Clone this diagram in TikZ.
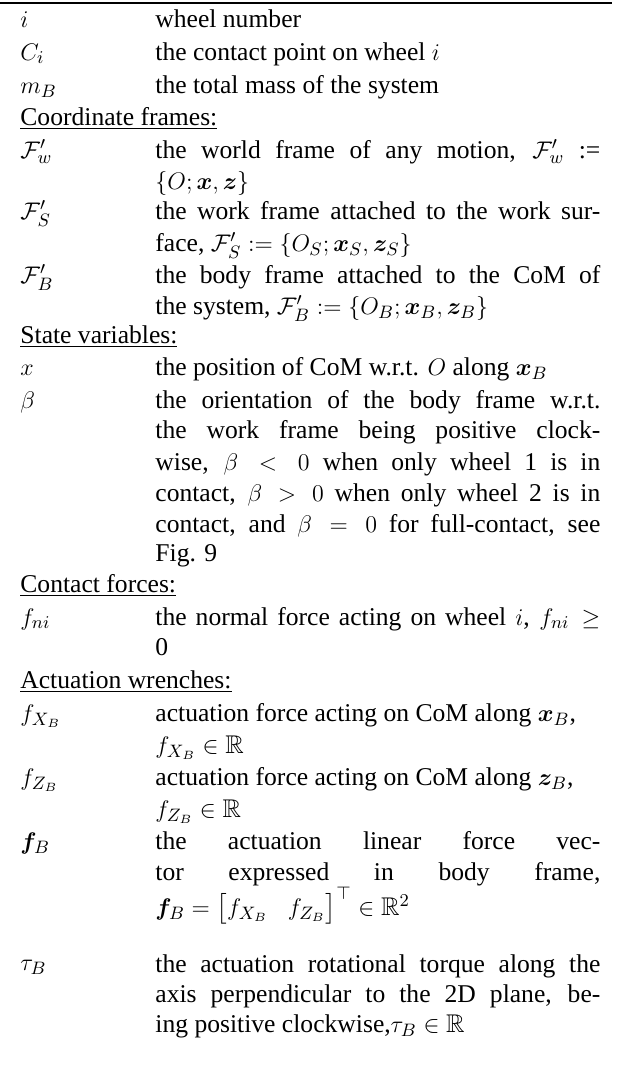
\documentclass[tikz,border=0pt]{standalone}
\usepackage{amsmath,amssymb,bm}
\usepackage{fontspec}
\setmainfont{Liberation Serif}
\newcommand{\J}[1]{\hbox to 222.5pt{#1}}
\begin{document}
\begin{tikzpicture}[x=0.5pt,y=-0.5pt,
  t/.style={anchor=base west,inner sep=0pt,font=\fontsize{12.8}{15.5}\selectfont}]
\useasboundingbox (0,0) rectangle (618,1078);
\draw[line width=0.8pt] (0,3) -- (612,3);
% symbols column
\node[t] (s1) at (20,27) {$i$};
\node[t] (s2) at (20,60) {$C_i$};
\node[t] (s3) at (20,93) {$m_B$};
\node[t] (h1) at (20,125) {\underline{Coordinate frames:}};
\node[t] (s4) at (20,158) {$\mathcal{F}'_w$};
\node[t] (s5) at (20,219) {$\mathcal{F}'_S$};
\node[t] (s6) at (20,283) {$\mathcal{F}'_B$};
\node[t] (h2) at (20,343) {\underline{State variables:}};
\node[t] (s7) at (20,375) {$x$};
\node[t] (s8) at (20,408) {$\beta$};
\node[t] (h3) at (20,592) {\underline{Contact forces:}};
\node[t] (s9) at (20,625) {$f_{ni}$};
\node[t] (h4) at (20,688) {\underline{Actuation wrenches:}};
\node[t] (s10) at (20,721) {$f_{X_B}$};
\node[t] (s11) at (20,785) {$f_{Z_B}$};
\node[t] (s12) at (20,849) {$\bm f_B$};
\node[t] (s13) at (20,970) {$\tau_B$};
% descriptions
\node[t] (d1) at (155,27) {wheel number};
\node[t] (d2) at (155,60) {the contact point on wheel $i$};
\node[t] (d3) at (155,93) {the total mass of the system};
\node[t] (d4a) at (155,158) {\J{the world frame of any motion, $\mathcal{F}'_w$ :=}};
\node[t] (d4b) at (155,189) {$\{O;\bm x,\bm z\}$};
\node[t] (d5a) at (155,219) {\J{the work frame attached to the work sur-}};
\node[t] (d5b) at (155,251) {face, $\mathcal F'_S := \{O_S;\bm x_S,\bm z_S\}$};
\node[t] (d6a) at (155,283) {\J{the body frame attached to the CoM of}};
\node[t] (d6b) at (155,314) {the system, $\mathcal F'_B := \{O_B;\bm x_B,\bm z_B\}$};
\node[t] (d7) at (155,375) {the position of CoM w.r.t. $O$ along $\bm x_B$};
\node[t] (d8a) at (155,408) {\J{the orientation of the body frame w.r.t.}};
\node[t] (d8b) at (155,438) {\J{the work frame being positive clock-}};
\node[t] (d8c) at (155,470) {\J{wise, $\beta<0$ when only wheel 1 is in}};
\node[t] (d8d) at (155,501) {\J{contact, $\beta>0$ when only wheel 2 is in}};
\node[t] (d8e) at (155,532) {\J{contact, and $\beta=0$ for full-contact, see}};
\node[t] (d8f) at (155,561) {Fig. 9};
\node[t] (d9a) at (155,625) {\J{the normal force acting on wheel $i$, $f_{ni}\geq$}};
\node[t] (d9b) at (155,655) {0};
\node[t] (d10a) at (155,721) {actuation force acting on CoM along $\bm x_B$,};
\node[t] (d10b) at (155,753) {$f_{X_B}\in\mathbb R$};
\node[t] (d11a) at (155,785) {actuation force acting on CoM along $\bm z_B$,};
\node[t] (d11b) at (155,817) {$f_{Z_B}\in\mathbb R$};
\node[t] (d12a) at (155,849) {\J{the actuation linear force vec-}};
\node[t] (d12b) at (155,880) {\J{tor expressed in body frame,}};
\node[t] (d12c) at (155,915) {$\bm f_B = \begin{bmatrix} f_{X_B} & f_{Z_B}\end{bmatrix}^\top \in\mathbb R^2$};
\node[t] (d13a) at (155,972) {\J{the actuation rotational torque along the}};
\node[t] (d13b) at (155,1002) {\J{axis perpendicular to the 2D plane, be-}};
\node[t] (d13c) at (155,1032) {ing positive clockwise,$\tau_B\in\mathbb R$};
\end{tikzpicture}
\end{document}
